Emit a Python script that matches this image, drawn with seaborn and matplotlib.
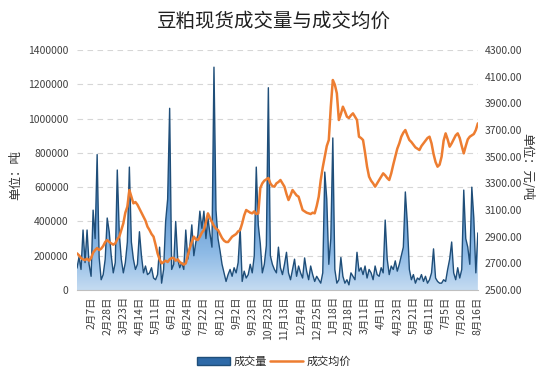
import numpy as np
import pandas as pd
import seaborn as sns
import matplotlib.pyplot as plt
from matplotlib.patches import Patch
from matplotlib.lines import Line2D
from matplotlib.colors import LinearSegmentedColormap

# 成交量（千吨），按交易日顺序
volume_k = [
    128, 192, 120, 350, 160, 350, 150, 80, 466, 300,
    790, 190, 60, 90, 180, 420, 340, 200, 100, 160,
    700, 330, 180, 100, 160, 280, 717, 280, 180, 120,
    150, 340, 200, 100, 140, 90, 100, 130, 70, 60,
    90, 250, 40, 120, 400, 530, 1060, 120, 150, 400,
    180, 130, 160, 120, 350, 180, 250, 380, 200, 280,
    320, 460, 360, 460, 300, 420, 330, 250, 1300, 466,
    300, 230, 150, 100, 50, 90, 120, 80, 130, 100,
    160, 360, 50, 110, 70, 90, 150, 100, 200, 717,
    380, 270, 100, 150, 260, 1180, 200, 150, 120, 100,
    250, 130, 90, 150, 220, 100, 60, 120, 180, 80,
    140, 100, 70, 187, 110, 60, 140, 90, 50, 80,
    60, 40, 100, 688, 530, 150, 300, 887, 120, 40,
    60, 190, 80, 40, 60, 30, 100, 80, 60, 220,
    110, 130, 90, 140, 70, 120, 100, 60, 140, 90,
    80, 130, 100, 408, 180, 90, 140, 120, 170, 110,
    150, 200, 250, 572, 390, 120, 60, 90, 40, 70,
    60, 90, 50, 80, 40, 60, 100, 240, 70, 50,
    40, 40, 60, 50, 120, 180, 280, 100, 60, 130,
    70, 120, 583, 300, 250, 150, 600, 420, 100, 333,
]

# 成交均价（元/吨）
price = [
    2775, 2760, 2740, 2730, 2725, 2735, 2720, 2740, 2780, 2800,
    2815, 2800, 2810, 2830, 2860, 2875, 2860, 2850, 2840, 2850,
    2880, 2900, 2950, 3000, 3080, 3125, 3250, 3200, 3150, 3160,
    3140, 3110, 3080, 3050, 3020, 2975, 2950, 2920, 2900, 2840,
    2775, 2730, 2700, 2710, 2720, 2710, 2730, 2740, 2740, 2720,
    2730, 2710, 2700, 2690, 2700, 2760, 2815, 2860, 2900, 2880,
    2875, 2900, 2930, 2950, 3010, 3075, 3040, 3010, 2980, 2960,
    2950, 2920, 2890, 2870, 2860, 2860, 2880, 2900, 2910, 2920,
    2940, 2950, 3000, 3060, 3100, 3090, 3080, 3075, 3090, 3070,
    3075, 3265, 3300, 3320, 3330, 3340, 3300, 3280, 3275, 3300,
    3310, 3325, 3300, 3275, 3220, 3175, 3210, 3250, 3230, 3210,
    3200, 3150, 3100, 3090, 3080, 3075, 3070, 3080, 3075, 3130,
    3200, 3325, 3420, 3500, 3580, 3625, 3875, 4075, 4040, 3975,
    3775, 3820, 3875, 3840, 3800, 3790, 3810, 3825, 3800, 3775,
    3650, 3640, 3625, 3530, 3425, 3350, 3320, 3300, 3275, 3300,
    3325, 3350, 3375, 3360, 3340, 3325, 3375, 3440, 3500, 3560,
    3600, 3650, 3680, 3700, 3660, 3625, 3610, 3590, 3570, 3560,
    3550, 3580, 3600, 3620, 3640, 3650, 3600, 3520, 3460, 3425,
    3440, 3500, 3620, 3675, 3630, 3575, 3600, 3630, 3660, 3675,
    3640, 3580, 3525, 3580, 3630, 3650, 3660, 3670, 3700, 3750,
]

date_labels = ['2月7日', '2月28日', '3月23日', '4月14日', '5月11日', '6月2日',
               '6月24日', '7月22日', '8月12日', '9月2日', '9月23日', '10月23日',
               '11月13日', '12月4日', '12月25日', '1月18日', '2月18日', '3月11日',
               '4月1日', '4月23日', '5月21日', '6月11日', '7月5日', '7月26日', '8月16日']

df = pd.DataFrame({'day': np.arange(len(price)),
                   'volume': np.array(volume_k) * 1000,
                   'price': price})
n = len(price)

sns.set_style('white')
plt.rcParams['font.family'] = ['Noto Sans CJK SC', 'DejaVu Sans']

fig = plt.figure(figsize=(5.48, 3.79), dpi=100)
ax = fig.add_axes([0.1405, 0.2348, 0.7315, 0.6332])

# 成交量：渐变面积 + 折线
area = ax.fill_between(df['day'], 0, df['volume'], facecolor='none', lw=0)
grad_cmap = LinearSegmentedColormap.from_list(
    'vol', [(0, '#c4dbf1'), (0.15, '#8fbbe6'), (0.4, '#5590cc'), (1, '#2a64a2')])
grad = np.linspace(0, 1, 256).reshape(-1, 1)
im = ax.imshow(grad, extent=[0, n - 1, 0, 1400000], origin='lower', aspect='auto',
               cmap=grad_cmap, zorder=2)
im.set_clip_path(area.get_paths()[0], transform=ax.transData)
sns.lineplot(data=df, x='day', y='volume', ax=ax, color='#1f4e79', lw=1.0, zorder=3)

ax.set_xlim(0, n - 1)
ax.set_ylim(0, 1400000)
ax.set_yticks(range(0, 1400001, 200000))
ax.set_yticklabels([str(v) for v in range(0, 1400001, 200000)])
ax.yaxis.grid(True, ls=(0, (5, 4)), color='#d6d6d6', lw=0.8)
ax.set_axisbelow(True)

tick_pos = [7 + 8 * k for k in range(len(date_labels))]
ax.set_xticks(tick_pos)
ax.set_xticklabels(date_labels, rotation=90, fontsize=7.5, color='#404040')
ax.set_xticks(np.arange(0, n, 1), minor=True)
ax.tick_params(axis='x', which='both', length=2.5, color='#c8c8c8', pad=2)
ax.tick_params(axis='y', length=0, pad=6, labelsize=7.5, labelcolor='#404040')
ax.set_xlabel('')
ax.set_ylabel('单位：吨', fontsize=9, color='#303030')
ax.yaxis.set_label_coords(-0.137, 0.48)
for s in ['top', 'left', 'right']:
    ax.spines[s].set_visible(False)
ax.spines['bottom'].set_color('#bfbfbf')

# 成交均价：右轴
ax2 = ax.twinx()
sns.lineplot(data=df, x='day', y='price', ax=ax2, color='#ed7d31', lw=1.8)
ax2.set_ylim(2500, 4300)
ax2.set_yticks(range(2500, 4301, 200))
ax2.set_yticklabels(['%.2f' % v for v in range(2500, 4301, 200)])
ax2.tick_params(axis='y', length=0, pad=5, labelsize=7.5, labelcolor='#404040')
ax2.set_ylabel('')
for s in ax2.spines.values():
    s.set_visible(False)
fig.text(0.962, 0.56, '单位：元/吨', rotation=270, fontsize=9, color='#303030',
         ha='center', va='center')

fig.text(0.5, 0.945, '豆粕现货成交量与成交均价', fontsize=14, ha='center', va='center',
         color='#202020')

handles = [Patch(facecolor='#2e6aa8', edgecolor='#1f4e79', label='成交量'),
           Line2D([0], [0], color='#ed7d31', lw=1.8, label='成交均价')]
fig.legend(handles=handles, loc='center', bbox_to_anchor=(0.5, 0.045), ncol=2,
           frameon=False, fontsize=8, handlelength=3, handleheight=0.7,
           columnspacing=0.3, handletextpad=0.3)

fig.savefig('out.png', dpi=100)
